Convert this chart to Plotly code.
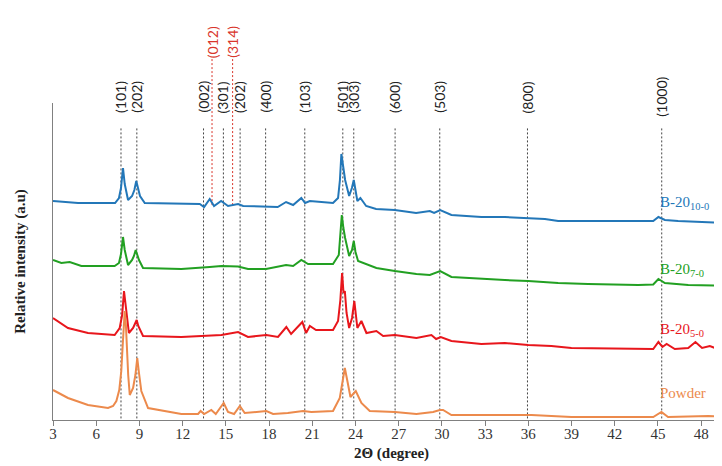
import plotly.graph_objects as go

# ---------------- data (2Theta in degrees, intensity in arbitrary units) ----------------
blue_x = [3.00, 4.74, 7.31, 7.58, 7.72, 7.86, 7.98, 8.10, 8.21, 8.49, 8.65, 8.78, 8.92, 9.04, 9.37,
          11.68, 13.19, 13.49, 13.88, 14.18, 14.67, 15.15, 15.85, 16.20, 17.79, 18.60, 19.18, 19.67,
          20.24, 20.50, 20.83, 22.44, 22.79, 22.92, 23.02, 23.15, 23.28, 23.56, 23.75, 23.88, 24.00,
          24.13, 24.34, 24.74, 25.43, 26.73, 28.21, 29.16, 29.46, 29.88, 30.66, 32.74, 34.37, 35.99,
          37.15, 38.07, 40.15, 43.63, 44.67, 45.03, 45.48, 46.40, 48.49, 50.00]
blue_y = [219, 217, 217, 222, 232, 252, 236, 226, 220, 224, 230, 239, 230, 224, 217,
          216, 216, 213, 221, 214, 219, 214, 216, 214, 213, 213, 218, 215,
          222, 217, 219, 217, 222, 240, 266, 250, 240, 224, 232, 240, 228,
          219, 222, 214, 211, 210, 207, 209, 207, 210, 205, 203, 203, 202,
          201, 199, 199, 199, 199, 203, 200, 199, 198, 197]

green_x = [3.00, 3.58, 4.16, 4.97, 7.28, 7.58, 7.72, 7.86, 7.98, 8.10, 8.21, 8.49, 8.62, 8.74, 8.86,
           8.97, 9.25, 11.91, 13.88, 14.69, 15.85, 16.54, 17.79, 19.18, 19.67, 20.24, 20.71, 22.44,
           22.84, 22.96, 23.05, 23.16, 23.28, 23.56, 23.76, 23.88, 24.00, 24.18, 25.45, 26.73, 28.23,
           29.16, 29.88, 30.66, 32.74, 34.37, 35.99, 38.07, 40.15, 43.63, 44.67, 45.03, 45.48, 47.10,
           50.00]
green_y = [160, 157, 158, 154, 154, 157, 166, 183, 170, 160, 155, 160, 164, 170, 164,
           160, 152, 151, 153, 154, 153.5, 151, 151, 155, 154, 160, 156, 156,
           165, 184, 205, 192, 182, 164, 170, 179, 168, 159, 152, 149, 146,
           145, 149, 143, 141, 140, 139, 137, 136, 135, 135.5, 141, 137, 135,
           134]

red_x = [3.00, 4.04, 5.43, 7.28, 7.63, 7.80, 7.93, 8.03, 8.13, 8.27, 8.56, 8.70, 8.81, 8.92, 9.04,
         9.25, 11.91, 13.19, 13.88, 14.69, 15.85, 16.54, 17.81, 18.62, 19.20, 19.53, 20.31, 20.57,
         20.83, 21.26, 22.44, 22.79, 22.95, 23.07, 23.17, 23.26, 23.38, 23.56, 23.76, 23.92, 24.02,
         24.13, 24.41, 24.76, 25.45, 25.92, 26.73, 28.23, 29.27, 29.60, 29.92, 30.66, 32.74, 34.37,
         35.99, 37.60, 38.99, 43.63, 44.67, 45.03, 45.31, 45.60, 46.17, 47.10, 47.60, 48.06, 48.60,
         49.15, 50.00]
red_y = [102, 92, 87, 85, 92, 105, 129, 118, 107, 87, 92, 96, 100, 94, 90,
         84, 83, 84, 85, 85, 88, 83, 85, 83, 93, 86, 98, 87,
         94, 90, 90, 99, 120, 147, 127, 129, 107, 92, 102, 119, 106,
         92, 99, 87, 89, 84, 85, 82, 85, 81, 83, 79, 76, 77,
         75, 74, 72, 71, 71, 78, 73, 76, 71, 72, 78, 72, 74,
         71, 70]

orange_x = [3.00, 4.04, 5.43, 6.82, 7.17, 7.40, 7.60, 7.74, 7.86, 7.98, 8.06, 8.13, 8.22, 8.33, 8.56,
            8.72, 8.85, 8.97, 9.13, 9.60, 11.91, 13.07, 13.25, 13.49, 13.99, 14.30, 14.85, 15.15,
            15.57, 15.97, 16.31, 17.81, 18.28, 19.30, 20.36, 20.94, 22.44, 22.91, 23.10, 23.26, 23.45,
            23.65, 24.02, 24.41, 24.99, 26.73, 28.23, 29.39, 29.85, 30.08, 30.66, 34.37, 36.22, 38.99,
            43.63, 44.67, 45.24, 45.70, 48.49, 50.00]
orange_y = [30, 22, 15, 12, 14, 19, 30, 49, 80, 109, 95, 72, 45, 25, 32,
            45, 62, 47, 29, 12, 6, 6, 9, 6, 10, 6, 17, 8,
            6, 14, 7, 9, 6, 7, 9, 8, 9, 22, 40, 52, 38,
            23, 29, 17, 9, 8, 6, 8, 10, 10, 5, 5, 5, 3,
            3, 3, 8, 3, 4, 3]

series_names = ["B-20<sub>10-0</sub>", "B-20<sub>7-0</sub>", "B-20<sub>5-0</sub>", "Powder"]
series_colors = ["#2377b8", "#22a022", "#e8161c", "#ec8a4c"]
label_levels = [217, 150, 90, 27]

peak_pos = [7.72, 8.82, 13.45, 14.04, 14.83, 15.47, 15.99, 17.76, 20.48, 23.12, 23.88, 26.75,
            29.85, 35.94, 45.26]
peak_labels = ["(101)", "(202)", "(002)", "(012)", "(301)", "(314)", "(202)", "(400)", "(103)",
               "(501)", "(303)", "(600)", "(503)", "(800)", "(1000)"]
peak_is_red = [False, False, False, True, False, True, False, False, False,
               False, False, False, False, False, False]

x_ticks = [3, 6, 9, 12, 15, 18, 21, 24, 27, 30, 33, 36, 39, 42, 45, 48]

SERIF = "Liberation Serif, Times New Roman, serif"
SANS = "Lato, Open Sans, sans-serif"

# ---------------- figure ----------------
fig = go.Figure()

shapes = []
annotations = []
for pos, lab, red in zip(peak_pos, peak_labels, peak_is_red):
    if red:
        shapes.append(dict(type="line", xref="x", yref="paper", x0=pos, x1=pos, y0=0.678, y1=1.14,
                           line=dict(color="#d9352b", width=1, dash="2px,2px"), layer="below"))
        annotations.append(dict(x=pos, y=1.192, xref="x", yref="paper", text=lab, textangle=-90,
                                showarrow=False, xanchor="center", yanchor="middle",
                                font=dict(family=SANS, size=14, color="#d9352b")))
    else:
        shapes.append(dict(type="line", xref="x", yref="paper", x0=pos, x1=pos, y0=0.005, y1=0.925,
                           line=dict(color="#444444", width=1, dash="2px,2px"), layer="below"))
        annotations.append(dict(x=pos, y=1.019, xref="x", yref="paper", text=lab, textangle=-90,
                                showarrow=False, xanchor="center", yanchor="middle",
                                font=dict(family=SANS, size=14, color="#222222")))

traces = [(blue_x, blue_y), (green_x, green_y), (red_x, red_y), (orange_x, orange_y)]
for (xs, ys), name, col, lvl in zip(traces, series_names, series_colors, label_levels):
    fig.add_trace(go.Scatter(x=xs, y=ys, mode="lines", name=name,
                             line=dict(color=col, width=2), showlegend=False))
    annotations.append(dict(x=0.894, y=lvl, xref="paper", yref="y", text=name, showarrow=False,
                            xanchor="left", yanchor="middle",
                            font=dict(family=SERIF, size=15, color=col)))

fig.update_layout(
    width=722, height=466,
    margin=dict(l=45, r=0, t=95, b=54),
    paper_bgcolor="white", plot_bgcolor="white",
    shapes=shapes, annotations=annotations,
    xaxis=dict(range=[3, 50], tickvals=x_ticks, ticktext=[str(t) for t in x_ticks],
               ticks="outside", ticklen=5, tickcolor="#808080", showline=True, linecolor="#808080",
               linewidth=1, showgrid=False, zeroline=False, ticklabelstandoff=-5,
               tickfont=dict(family=SERIF, size=15, color="#333333"),
               title=dict(text="<b>2Θ (degree)</b>", standoff=6,
                          font=dict(family=SERIF, size=15, color="#222222"))),
    yaxis=dict(range=[0, 317], showticklabels=False, ticks="", showline=True, linecolor="#808080",
               linewidth=1, showgrid=False, zeroline=False,
               title=dict(text="<b>Relative intensity (a.u)</b>", standoff=22,
                          font=dict(family=SERIF, size=15, color="#222222"))),
)

fig.write_html("out.html")
